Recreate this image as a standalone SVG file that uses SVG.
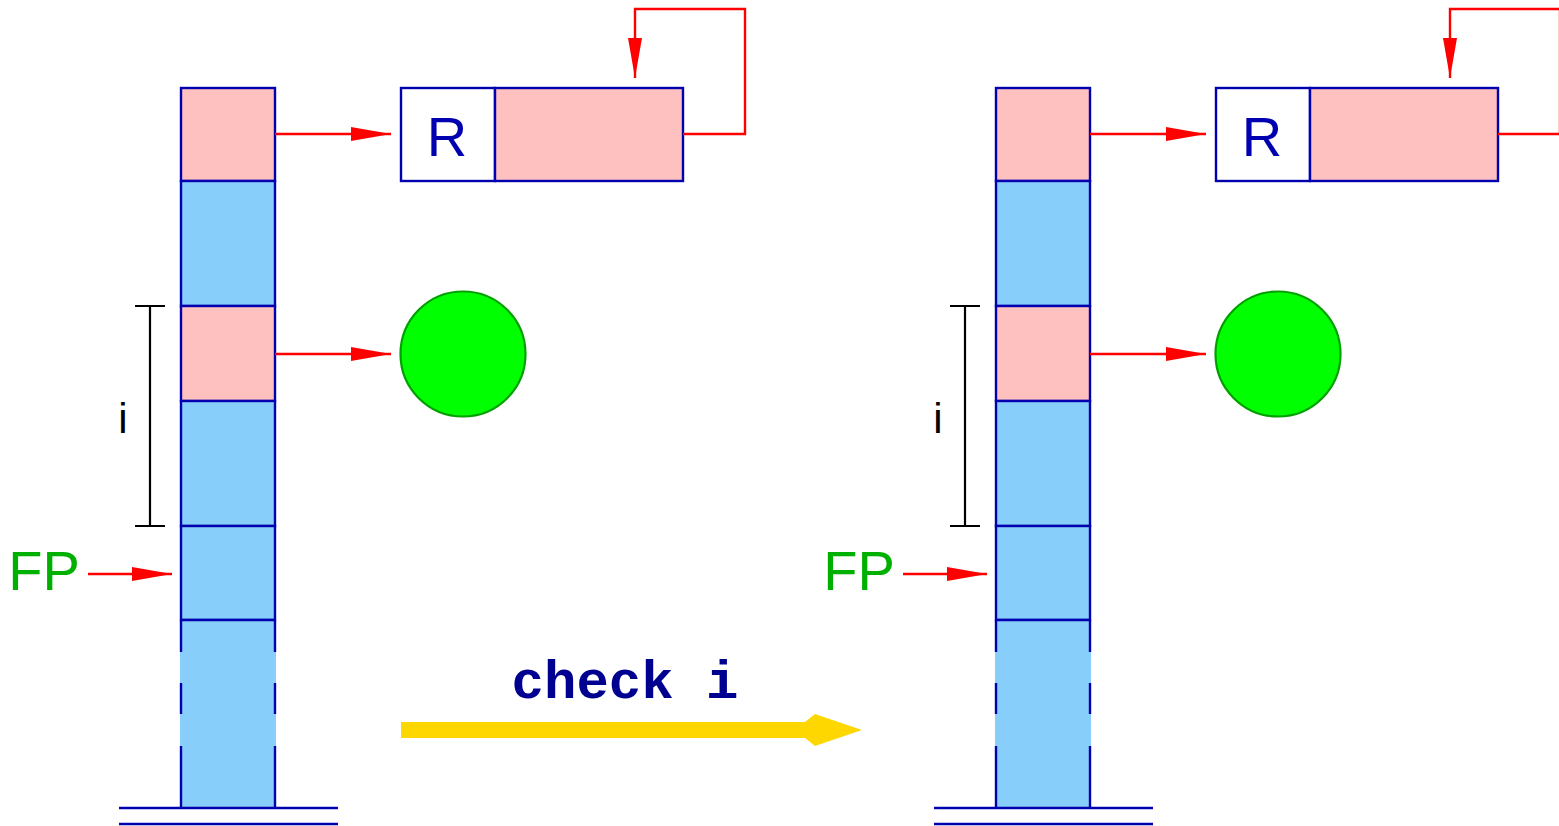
<svg xmlns="http://www.w3.org/2000/svg" width="1559" height="826" viewBox="0 0 1559 826">
<style>
.pink{fill:#ffc0c0;stroke:#0000b0;stroke-width:2.4}
.blue{fill:#87cefa;stroke:#0000b0;stroke-width:2.4}
.bfill{fill:#87cefa;stroke:none}
.edge{stroke:#0000b0;stroke-width:2.4;fill:none}
.red{stroke:#ff0000;stroke-width:2.4;fill:none}
.blk{stroke:#000;stroke-width:2.2;fill:none}
.lbl{font-family:"Liberation Sans",Arial,sans-serif}
</style>
<defs>
<marker id="ah" viewBox="0 0 40 14" refX="40" refY="7" markerWidth="40" markerHeight="14" markerUnits="userSpaceOnUse" orient="auto">
<path d="M0,0 L40,7 L0,14 Z" fill="#ff0000"/>
</marker>
<g id="panel">
<g id="stack">
<rect class="pink" x="181" y="88" width="94" height="93"/>
<rect class="blue" x="181" y="181" width="94" height="125"/>
<rect class="pink" x="181" y="306" width="94" height="95"/>
<rect class="blue" x="181" y="401" width="94" height="125"/>
<rect class="blue" x="181" y="526" width="94" height="94"/>
<rect class="bfill" x="180" y="620" width="96" height="188"/>
<line class="edge" x1="181" y1="620" x2="275" y2="620"/>
<path class="edge" d="M181,620 V652 M181,683 V714 M181,746 V808 M275,620 V652 M275,683 V714 M275,746 V808"/>
<line class="edge" x1="119" y1="808" x2="338" y2="808"/>
<line class="edge" x1="119" y1="824" x2="338" y2="824"/>
</g>
<g id="rbox">
<rect x="401" y="88" width="94" height="93" fill="#fff" stroke="#0000b0" stroke-width="2.4"/>
<rect class="pink" x="495" y="88" width="188" height="93"/>
<text class="lbl" x="447" y="156" font-size="56" fill="#0000b0" text-anchor="middle">R</text>
</g>
<g id="circle">
<circle cx="463" cy="354" r="62.5" fill="#00ff00" stroke="#00a000" stroke-width="2.2"/>
</g>
<g id="bracket">
<path class="blk" d="M150,306 V526 M135,306 H165 M135,526 H165"/>
<text class="lbl" x="123" y="433" font-size="42" fill="#000" text-anchor="middle">i</text>
</g>
<g id="fp">
<text class="lbl" x="44" y="590" font-size="56" fill="#00b000" text-anchor="middle">FP</text>
</g>
<g id="connectors">
<line class="red" x1="275" y1="134" x2="391" y2="134" marker-end="url(#ah)"/>
<line class="red" x1="275" y1="354" x2="391" y2="354" marker-end="url(#ah)"/>
<line class="red" x1="88" y1="574" x2="172" y2="574" marker-end="url(#ah)"/>
<polyline class="red" points="683,134 745,134 745,9 635,9 635,78" marker-end="url(#ah)"/>
</g>
</g>
</defs>
<use href="#panel"/>
<use href="#panel" x="815"/>
<g id="transition">
<text x="625" y="698" font-family="'Liberation Mono','Courier New',monospace" font-weight="bold" font-size="54" fill="#000090" text-anchor="middle">check i</text>
<polygon points="401,722 805,722 815,714 862,730 815,746 805,738 401,738" fill="#ffd700"/>
</g>
</svg>
